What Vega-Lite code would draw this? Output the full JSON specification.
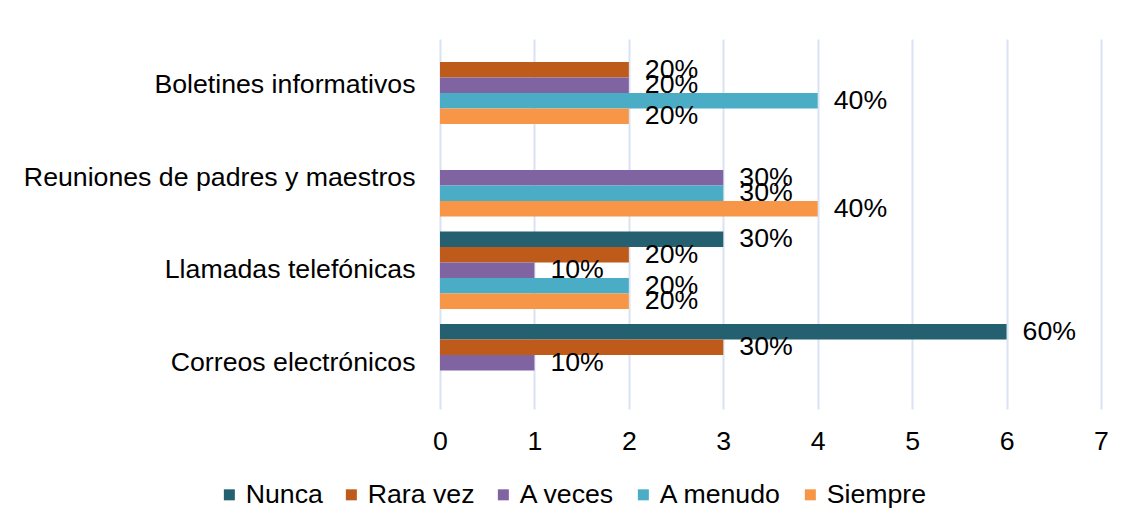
{
  "$schema": "https://vega.github.io/schema/vega-lite/v6.json",
  "width": 661,
  "height": 370,
  "autosize": {"type": "none"},
  "padding": {"left": 440, "top": 39, "right": 30, "bottom": 120},
  "background": "white",
  "config": {"view": {"stroke": null}, "font": "Liberation Sans"},
  "data": {"values": [
    {"canal": "Boletines informativos", "serie": "Rara vez", "valor": 2, "pct": 0.2},
    {"canal": "Boletines informativos", "serie": "A veces", "valor": 2, "pct": 0.2},
    {"canal": "Boletines informativos", "serie": "A menudo", "valor": 4, "pct": 0.4},
    {"canal": "Boletines informativos", "serie": "Siempre", "valor": 2, "pct": 0.2},
    {"canal": "Reuniones de padres y maestros", "serie": "A veces", "valor": 3, "pct": 0.3},
    {"canal": "Reuniones de padres y maestros", "serie": "A menudo", "valor": 3, "pct": 0.3},
    {"canal": "Reuniones de padres y maestros", "serie": "Siempre", "valor": 4, "pct": 0.4},
    {"canal": "Llamadas telefónicas", "serie": "Nunca", "valor": 3, "pct": 0.3},
    {"canal": "Llamadas telefónicas", "serie": "Rara vez", "valor": 2, "pct": 0.2},
    {"canal": "Llamadas telefónicas", "serie": "A veces", "valor": 1, "pct": 0.1},
    {"canal": "Llamadas telefónicas", "serie": "A menudo", "valor": 2, "pct": 0.2},
    {"canal": "Llamadas telefónicas", "serie": "Siempre", "valor": 2, "pct": 0.2},
    {"canal": "Correos electrónicos", "serie": "Nunca", "valor": 6, "pct": 0.6},
    {"canal": "Correos electrónicos", "serie": "Rara vez", "valor": 3, "pct": 0.3},
    {"canal": "Correos electrónicos", "serie": "A veces", "valor": 1, "pct": 0.1}
  ]},
  "encoding": {
    "y": {
      "field": "canal", "type": "nominal",
      "sort": ["Boletines informativos", "Reuniones de padres y maestros", "Llamadas telefónicas", "Correos electrónicos"],
      "scale": {"domain": ["Boletines informativos", "Reuniones de padres y maestros", "Llamadas telefónicas", "Correos electrónicos"], "paddingInner": 0, "paddingOuter": 0},
      "axis": {"title": null, "domain": false, "ticks": false, "labelFontSize": 26.7, "labelPadding": 25, "labelColor": "#000000", "labelLimit": 600}
    },
    "yOffset": {
      "field": "serie", "type": "nominal",
      "scale": {"domain": ["Nunca", "Rara vez", "A veces", "A menudo", "Siempre"], "paddingInner": 0, "paddingOuter": 0.48}
    },
    "x": {
      "field": "valor", "type": "quantitative",
      "scale": {"domain": [0, 7], "nice": false},
      "axis": {"title": null, "values": [0, 1, 2, 3, 4, 5, 6, 7], "domain": false, "ticks": false, "grid": true, "gridColor": "#d9e3f3", "gridWidth": 2, "labelFlush": false, "labelFontSize": 26.7, "labelPadding": 19, "labelColor": "#000000"}
    }
  },
  "layer": [
    {
      "mark": {"type": "bar"},
      "encoding": {
        "color": {
          "field": "serie", "type": "nominal",
          "scale": {"domain": ["Nunca", "Rara vez", "A veces", "A menudo", "Siempre"], "range": ["#24606f", "#be5a1a", "#8064a2", "#4bacc6", "#f79646"]},
          "legend": {"title": null, "orient": "none", "legendX": -224, "legendY": 442, "direction": "horizontal", "symbolType": "square", "symbolSize": 121, "symbolStrokeWidth": 0, "labelFontSize": 26.7, "labelColor": "#000000", "labelOffset": 3, "columnPadding": 15, "labelLimit": 300}
        }
      }
    },
    {
      "mark": {"type": "text", "align": "left", "baseline": "middle", "dx": 16, "fontSize": 26.7, "color": "#000000"},
      "encoding": {"text": {"field": "pct", "type": "quantitative", "format": ".0%"}}
    }
  ]
}
